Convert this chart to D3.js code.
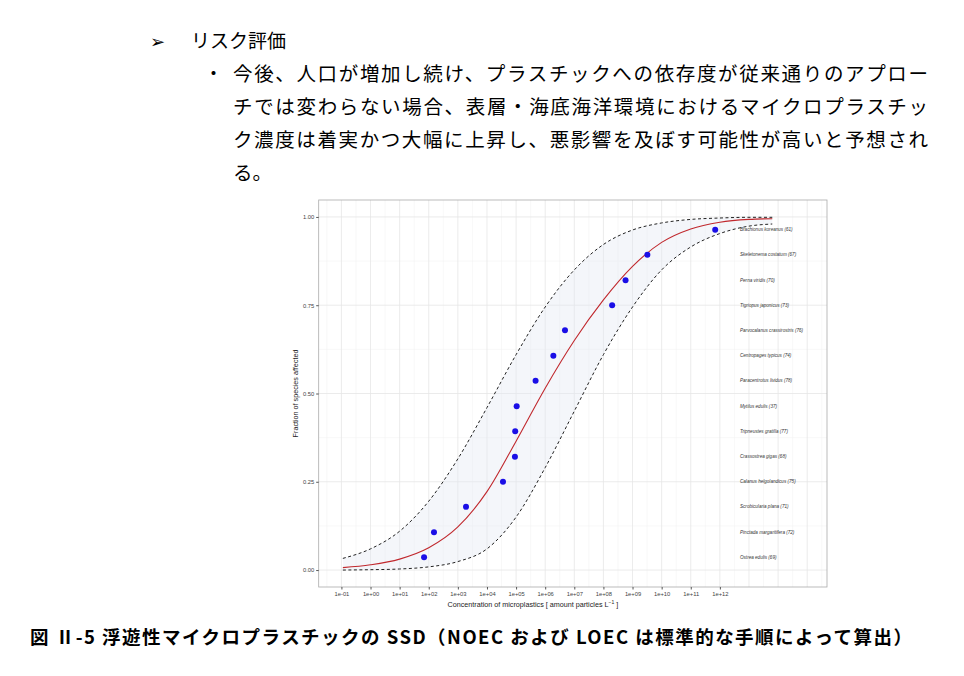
<!DOCTYPE html>
<html><head><meta charset="utf-8">
<script src="https://cdn.jsdelivr.net/npm/d3@7"></script>
<style>
body{margin:0;background:#fff;}
svg{display:block;}
</style></head>
<body><svg width="964" height="676"></svg>
<script>
// 種の点 (log10 濃度, 影響割合)
const speciesLog = [1.84, 2.18, 3.28, 4.55, 4.96, 4.97, 5.02, 5.67, 6.28, 6.68, 8.30, 8.76, 9.51, 11.84];
const speciesFrac = [0.036, 0.107, 0.179, 0.25, 0.321, 0.393, 0.464, 0.536, 0.607, 0.679, 0.75, 0.821, 0.893, 0.964];
const speciesNames = ["Ostrea edulis (69)", "Pinctada margaritifera (72)", "Scrobicularia plana (71)",
  "Calanus helgolandicus (75)", "Crassostrea gigas (68)", "Tripneustes gratilla (77)", "Mytilus edulis (37)",
  "Paracentrotus lividus (78)", "Centropages typicus (74)", "Parvocalanus crassirostris (76)",
  "Tigriopus japonicus (73)", "Perna viridis (70)", "Skeletonema costatum (67)", "Brachionus koreanus (61)"];

// 曲線 (log10 濃度ごと)
const curveLog = [-0.95, 0, 1, 2, 3, 4, 5, 6, 7, 8, 9, 10, 11, 12, 13, 13.8];
const fitted = [0.007, 0.015, 0.031, 0.063, 0.122, 0.222, 0.365, 0.515, 0.65, 0.765, 0.86, 0.928, 0.966, 0.985, 0.993, 0.995];
const upper = [0.033, 0.06, 0.11, 0.195, 0.315, 0.46, 0.61, 0.745, 0.85, 0.922, 0.963, 0.983, 0.993, 0.997, 0.999, 0.999];
const lower = [0.0, 0.001, 0.003, 0.009, 0.024, 0.06, 0.15, 0.29, 0.45, 0.61, 0.745, 0.85, 0.915, 0.953, 0.974, 0.98];

const xTicks = d3.range(-1, 13);
const yTicks = [0, 0.25, 0.5, 0.75, 1];

const svg = d3.select("svg");
const jp = "'Noto Sans CJK JP', sans-serif";

// 本文
svg.append("text").attr("x", 150).attr("y", 48).attr("font-family", jp).attr("font-size", 18).text("➢");
svg.append("text").attr("x", 191).attr("y", 48).attr("font-family", jp).attr("font-size", 19).text("リスク評価");
svg.append("text").attr("x", 204).attr("y", 81).attr("font-family", jp).attr("font-size", 19).text("・");
const lines = ["今後、人口が増加し続け、プラスチックへの依存度が従来通りのアプロー",
  "チでは変わらない場合、表層・海底海洋環境におけるマイクロプラスチッ",
  "ク濃度は着実かつ大幅に上昇し、悪影響を及ぼす可能性が高いと予想され",
  "る。"];
lines.forEach((t, i) => {
  const el = svg.append("text").attr("x", 233).attr("y", 81 + i * 33)
    .attr("font-family", jp).attr("font-size", 19.5).text(t);
  if (i < 3) el.attr("textLength", 695).attr("lengthAdjust", "spacing");
});
svg.append("text").attr("x", 30).attr("y", 644).attr("font-family", jp).attr("font-size", 18.5)
  .attr("font-weight", "bold").attr("textLength", 882).attr("lengthAdjust", "spacing")
  .text("図 Ⅱ-5 浮遊性マイクロプラスチックの SSD（NOEC および LOEC は標準的な手順によって算出）");

// グラフ
const L = 318.7, R = 827, T = 200, B = 587;
const x = d3.scaleLinear().domain([-1.78, 15.68]).range([L, R]);
const y = d3.scaleLinear().domain([-0.048, 1.048]).range([B, T]);
const g = svg.append("g");

g.append("rect").attr("x", L).attr("y", T).attr("width", R - L).attr("height", B - T).attr("fill", "#fff");
// 補助目盛
d3.range(-1.5, 15.6, 1).forEach(v => g.append("line").attr("x1", x(v)).attr("x2", x(v)).attr("y1", T).attr("y2", B)
  .attr("stroke", "#f0f0f0").attr("stroke-width", 0.5));
[0.125, 0.375, 0.625, 0.875].forEach(v => g.append("line").attr("x1", L).attr("x2", R).attr("y1", y(v)).attr("y2", y(v))
  .attr("stroke", "#f0f0f0").attr("stroke-width", 0.5));
d3.range(-1, 16).forEach(v => g.append("line").attr("x1", x(v)).attr("x2", x(v)).attr("y1", T).attr("y2", B)
  .attr("stroke", "#e6e6e6").attr("stroke-width", 0.8));
yTicks.forEach(v => g.append("line").attr("x1", L).attr("x2", R).attr("y1", y(v)).attr("y2", y(v))
  .attr("stroke", "#e6e6e6").attr("stroke-width", 0.8));

const idx = d3.range(curveLog.length);
const band = d3.area().curve(d3.curveMonotoneX).x(i => x(curveLog[i])).y0(i => y(lower[i])).y1(i => y(upper[i]));
g.append("path").datum(idx).attr("d", band).attr("fill", "#e3e8f3").attr("opacity", 0.4);
const line = arr => d3.line().curve(d3.curveMonotoneX).x(i => x(curveLog[i])).y(i => y(arr[i]))(idx);
g.append("path").attr("d", line(upper)).attr("fill", "none").attr("stroke", "#222").attr("stroke-width", 1).attr("stroke-dasharray", "3,2.5");
g.append("path").attr("d", line(lower)).attr("fill", "none").attr("stroke", "#222").attr("stroke-width", 1).attr("stroke-dasharray", "3,2.5");
g.append("path").attr("d", line(fitted)).attr("fill", "none").attr("stroke", "#c0282d").attr("stroke-width", 1.1);

g.selectAll("circle.pt").data(speciesLog).enter().append("circle")
  .attr("cx", d => x(d)).attr("cy", (d, i) => y(speciesFrac[i])).attr("r", 3)
  .attr("fill", "#1a0ee6");

g.selectAll("text.sp").data(speciesNames).enter().append("text")
  .attr("x", 740).attr("y", (d, i) => y(speciesFrac[i]) + 1.5)
  .attr("font-family", "Liberation Sans, sans-serif").attr("font-size", 4.6).attr("font-style", "italic")
  .attr("fill", "#333").text(d => d);

g.append("rect").attr("x", L).attr("y", T).attr("width", R - L).attr("height", B - T)
  .attr("fill", "none").attr("stroke", "#aaa").attr("stroke-width", 0.8);

// 軸
const fmt = v => "1e" + (v < 0 ? "-" : "+") + String(Math.abs(v)).padStart(2, "0");
const xAxis = svg.append("g").attr("transform", `translate(0,${B})`)
  .call(d3.axisBottom(x).tickValues(xTicks).tickFormat(fmt).tickSize(2.5).tickPadding(2));
const yAxis = svg.append("g").attr("transform", `translate(${L},0)`)
  .call(d3.axisLeft(y).tickValues(yTicks).tickFormat(d3.format(".2f")).tickSize(2.5).tickPadding(2));
[xAxis, yAxis].forEach(a => {
  a.select(".domain").remove();
  a.selectAll("line").attr("stroke", "#555");
  a.selectAll("text").attr("font-family", "Liberation Sans, sans-serif").attr("font-size", 5.8).attr("fill", "#444");
});

const xt = svg.append("text").attr("x", (L + R) / 2 - 40).attr("y", 607).attr("text-anchor", "middle")
  .attr("font-family", "Liberation Sans, sans-serif").attr("font-size", 7.2).attr("fill", "#222");
xt.append("tspan").text("Concentration of microplastics [ amount particles L");
xt.append("tspan").attr("dy", -3).attr("font-size", 5).text("−1");
xt.append("tspan").attr("dy", 3).text(" ]");
svg.append("text").attr("transform", `translate(298,${(T + B) / 2}) rotate(-90)`).attr("text-anchor", "middle")
  .attr("font-family", "Liberation Sans, sans-serif").attr("font-size", 7.2).attr("fill", "#222")
  .text("Fraction of species affected");
</script></body></html>
